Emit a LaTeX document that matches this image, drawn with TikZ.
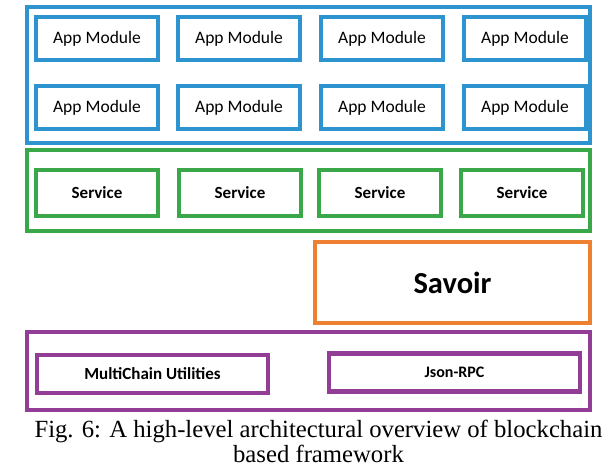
\documentclass[tikz,border=0pt]{standalone}
\usepackage{fontspec}
\setmainfont{Liberation Serif}
\newfontfamily\boxfont{Carlito}
\definecolor{appblue}{RGB}{45,148,208}
\definecolor{srvgreen}{RGB}{58,168,72}
\definecolor{savorange}{RGB}{238,128,50}
\definecolor{mcpurple}{RGB}{146,62,150}
\begin{document}
\begin{tikzpicture}[x=1pt,y=-1pt,
       layer/.style={rectangle,draw,line width=4pt,inner sep=0pt},
       app/.style={rectangle,draw=appblue,line width=4.5pt,minimum width=122pt,minimum height=43pt,font=\boxfont\fontsize{17.5}{19}\selectfont},
       srv/.style={rectangle,draw=srvgreen,line width=4.5pt,minimum width=122pt,minimum height=46pt,font=\boxfont\bfseries\fontsize{17}{19}\selectfont},
       util/.style={rectangle,draw=mcpurple,line width=4.5pt,minimum height=38pt}]
   \useasboundingbox (0,0) rectangle (609,470);
   % outer layers
   \node [layer,draw=appblue,minimum width=563pt,minimum height=136pt] (apps) at (308.5,75) {};
   \node [layer,draw=srvgreen,minimum width=563pt,minimum height=81pt] (services) at (308.5,190.5) {};
   \node [layer,draw=mcpurple,minimum width=563pt,minimum height=78pt] (chain) at (308.5,371) {};
   \node [layer,draw=savorange,minimum width=275pt,minimum height=81pt,font=\boxfont\bfseries\fontsize{30.5}{33}\selectfont] (savoir) at (452.5,282.5) {Savoir};
   % app modules
   \foreach \x [count=\i] in {97,239,382,525} {
       \node [app] (a1\i) at (\x,38.5) {App Module};
       \node [app] (a2\i) at (\x,107.5) {App Module};
   }
   % services
   \foreach \x [count=\i] in {97,240,380,522}
       \node [srv] (s\i) at (\x,193) {Service};
   % multichain layer
   \node [util,minimum width=231pt,font=\boxfont\bfseries\fontsize{17}{19}\selectfont] (multi) at (152.5,374) {MultiChain Utilities};
   \node [util,minimum width=251pt,font=\boxfont\bfseries\fontsize{16}{18}\selectfont] (rpc) at (454.5,372.5) {Json-RPC};
   \node [align=center,inner sep=0pt,font=\fontsize{24.7}{25.5}\selectfont] (caption) at (318.5,441.5)
       {Fig. 6: A high-level architectural overview of blockchain\\based framework};
\end{tikzpicture}
\end{document}
